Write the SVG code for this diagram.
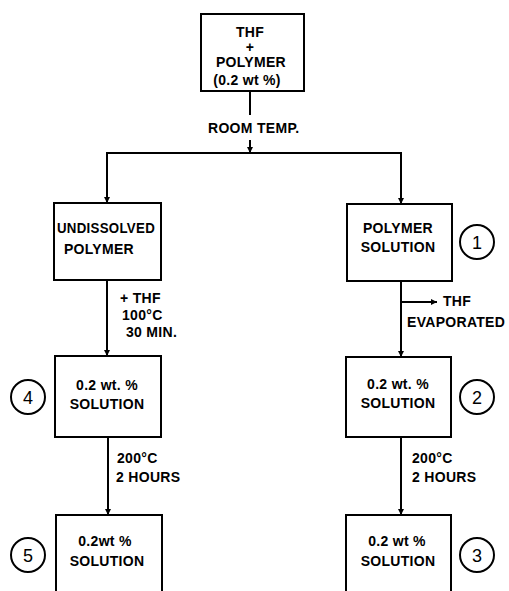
<svg xmlns="http://www.w3.org/2000/svg" width="509" height="591" viewBox="0 0 509 591">
<defs>
<style>
.box{fill:#fff;stroke:#000;stroke-width:2}
.ln{fill:none;stroke:#000;stroke-width:2}
.c{fill:none;stroke:#000;stroke-width:2}
text{font-family:"Liberation Sans",Arial,sans-serif;font-weight:bold;font-size:14px;fill:#000;letter-spacing:0.3px}
.m{text-anchor:middle}
.n{font-size:18px;font-weight:normal;text-anchor:middle;letter-spacing:0}
</style>
<marker id="ah" viewBox="0 0 10 10" refX="10" refY="5" markerWidth="10" markerHeight="6" markerUnits="userSpaceOnUse" orient="auto">
<path d="M0,0 L10,5 L0,10 z" fill="#000"/>
</marker>
</defs>
<rect width="509" height="591" fill="#fff"/>
<g id="connectors">
<line class="ln" x1="250" y1="91" x2="250" y2="115"/>
<line class="ln" x1="250" y1="140" x2="250" y2="153" marker-end="url(#ah)"/>
<line class="ln" x1="106" y1="153" x2="402" y2="153"/>
<line class="ln" x1="107" y1="153" x2="107" y2="203" marker-end="url(#ah)"/>
<line class="ln" x1="401" y1="153" x2="401" y2="204" marker-end="url(#ah)"/>
<line class="ln" x1="107" y1="280" x2="107" y2="356" marker-end="url(#ah)"/>
<line class="ln" x1="401" y1="281" x2="401" y2="357" marker-end="url(#ah)"/>
<line class="ln" x1="401" y1="302" x2="437" y2="302" marker-end="url(#ah)"/>
<line class="ln" x1="108" y1="437" x2="108" y2="515" marker-end="url(#ah)"/>
<line class="ln" x1="401" y1="437" x2="401" y2="515" marker-end="url(#ah)"/>
<text x="208" y="133">ROOM TEMP.</text>
<text x="120" y="303">+ THF</text>
<text x="122" y="320">100°C</text>
<text x="126" y="337">30 MIN.</text>
<text x="443" y="306">THF</text>
<text x="407" y="327">EVAPORATED</text>
<text x="117" y="463">200°C</text>
<text x="116" y="482">2 HOURS</text>
<text x="412" y="463">200°C</text>
<text x="412" y="482">2 HOURS</text>
</g>
<g id="top">
<rect class="box" x="201" y="14" width="103" height="77"/>
<text class="m" x="250" y="37">THF</text>
<text class="m" x="250" y="52">+</text>
<text class="m" x="251" y="67">POLYMER</text>
<text class="m" x="247" y="85">(0.2 wt %)</text>
</g>
<g id="undissolved">
<rect class="box" x="54" y="203" width="107" height="77"/>
<text class="m" x="106" y="233" textLength="98" lengthAdjust="spacingAndGlyphs">UNDISSOLVED</text>
<text class="m" x="99" y="254">POLYMER</text>
</g>
<g id="sol1">
<rect class="box" x="347" y="204" width="105" height="77"/>
<text class="m" x="398" y="233">POLYMER</text>
<text class="m" x="398" y="252">SOLUTION</text>
<circle class="c" cx="477" cy="242" r="17"/>
<text class="n" x="477" y="249">1</text>
</g>
<g id="sol4">
<rect class="box" x="55" y="356" width="106" height="81"/>
<text class="m" x="107" y="390">0.2 wt. %</text>
<text class="m" x="107" y="409">SOLUTION</text>
<circle class="c" cx="28" cy="397" r="17"/>
<text class="n" x="28" y="404">4</text>
</g>
<g id="sol2">
<rect class="box" x="346" y="357" width="105" height="80"/>
<text class="m" x="398" y="389">0.2 wt. %</text>
<text class="m" x="398" y="408">SOLUTION</text>
<circle class="c" cx="477" cy="397" r="17"/>
<text class="n" x="477" y="404">2</text>
</g>
<g id="sol5">
<rect class="box" x="56" y="515" width="106" height="90"/>
<text class="m" x="105" y="546">0.2wt %</text>
<text class="m" x="107" y="566">SOLUTION</text>
<circle class="c" cx="28" cy="555" r="17"/>
<text class="n" x="28" y="562">5</text>
</g>
<g id="sol3">
<rect class="box" x="346" y="515" width="105" height="90"/>
<text class="m" x="397" y="546">0.2 wt %</text>
<text class="m" x="398" y="566">SOLUTION</text>
<circle class="c" cx="477" cy="555" r="17"/>
<text class="n" x="477" y="562">3</text>
</g>
</svg>
